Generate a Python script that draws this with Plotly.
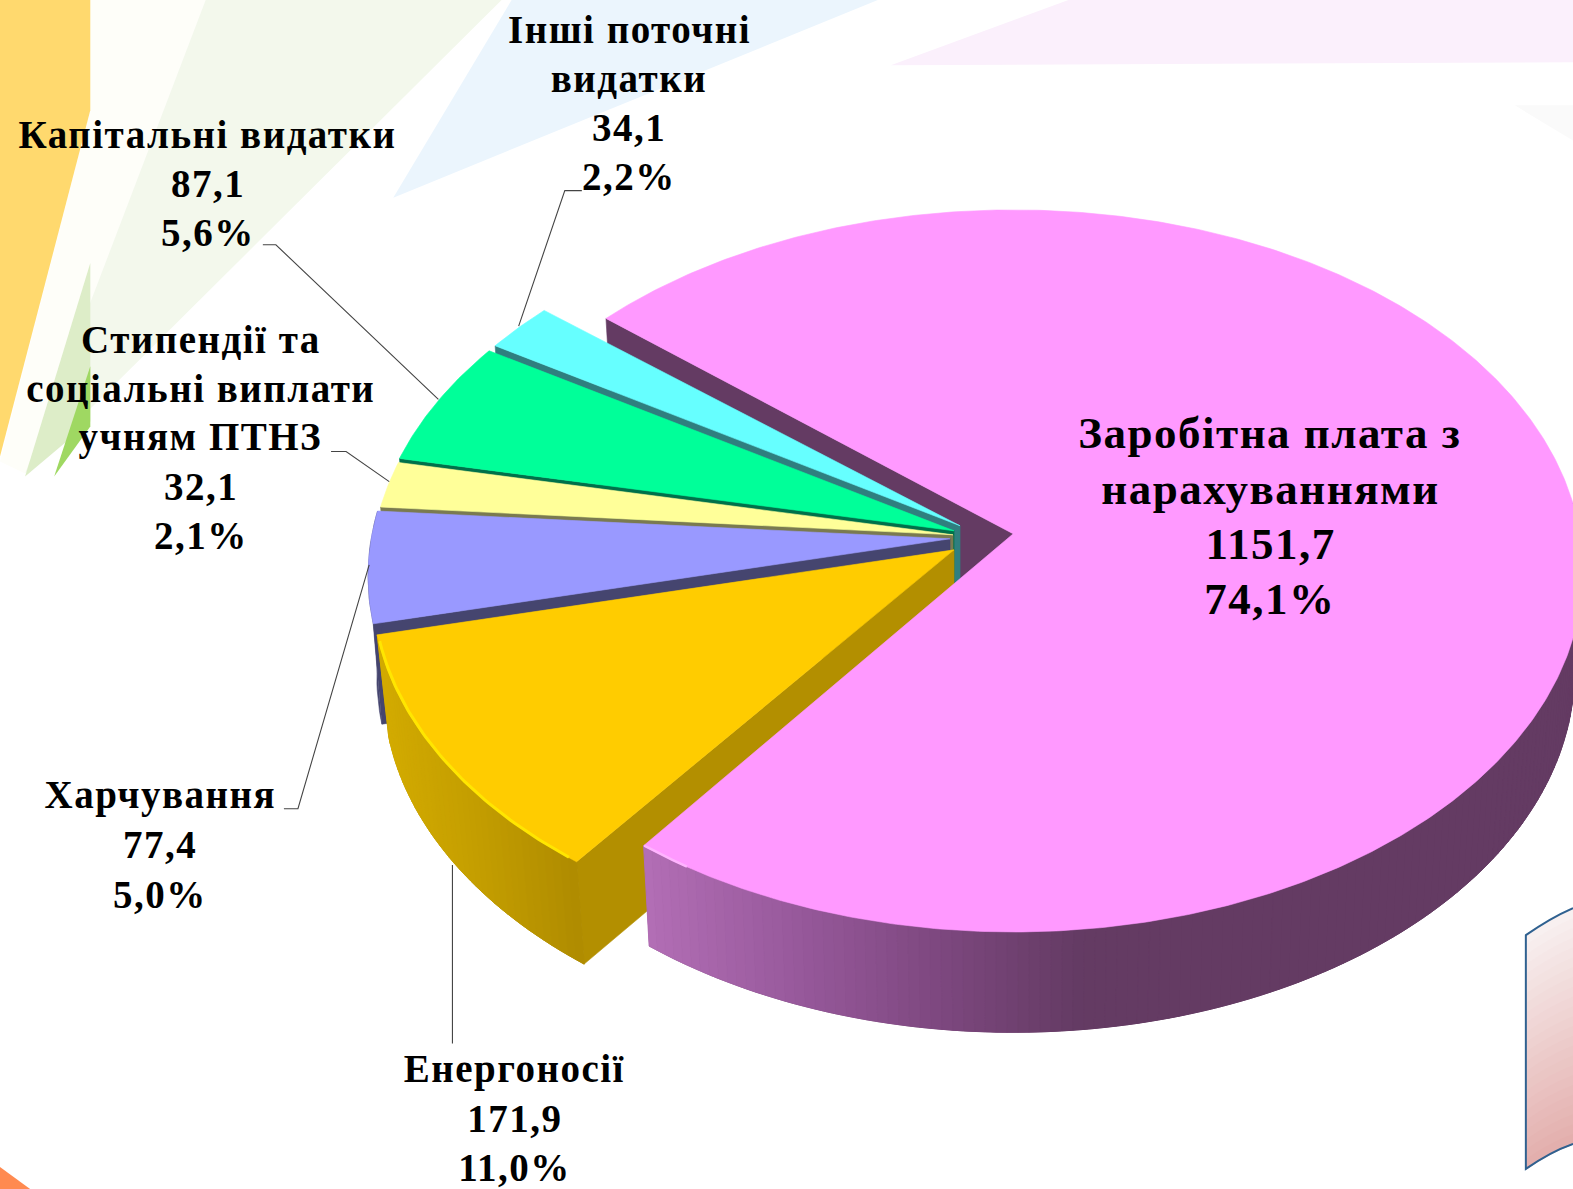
import numpy as np
import plotly.graph_objects as go

# ---- data ----
categories = ["Заробітна плата з нарахуваннями", "Енергоносії", "Харчування",
              "Стипендії та соціальні виплати учням ПТНЗ", "Капітальні видатки", "Інші поточні видатки"]
amounts = [1151.7, 171.9, 77.4, 32.1, 87.1, 34.1]
percents = [74.1, 11.0, 5.0, 2.1, 5.6, 2.2]
label_lines = [["Заробітна плата з", "нарахуваннями"], ["Енергоносії"], ["Харчування"],
               ["Стипендії та", "соціальні виплати", "учням ПТНЗ"], ["Капітальні видатки"],
               ["Інші поточні", "видатки"]]

# ---- styles and layout ----
top_colors = ["#FF99FF", "#FFCC00", "#9999FF", "#FFFF99", "#00FF99", "#66FFFF"]
wall_colors = ["#643B63", "#B38F00", "#45456F", "#7A7A50", "#00704A", "#2F7F7F"]
apexes = [(1010, 532), (951, 548), (947, 537), (950, 533), (951, 529), (957, 524)]
rx_values = [565, 577, 577, 577, 577, 577]
depths = [100, 102, 100, 100, 100, 100]
shrinks = [0.985, 0.98, 0.985, 0.985, 0.985, 0.985]
label_x = [1266, 513, 159, 200, 207, 627]
label_y = [432, 1065, 792, 338, 134, 29]
line_step = [55, 49.5, 49.5, 49, 49, 49]
font_px = [45, 39, 39, 39, 39, 39]
leaders = [([580, 563, 517], [190, 190, 325]), ([262, 275, 437], [244, 244, 398]),
           ([330, 345, 388], [450, 450, 480]), ([283, 297, 368], [806, 806, 563]),
           ([451, 451], [1040, 862])]

W, H = 1568, 1185
RY, K = 356, 0.1029
START = 140.0
FONT = "Liberation Serif"


def rim(theta_deg, i, lower=False, inset=0):
    apex, rx = apexes[i], rx_values[i] - inset
    t = np.radians(np.asarray(theta_deg, dtype=float))
    u, v = np.cos(t), -np.sin(t)
    d = 1 - K * v
    x, y = rx * u / d, RY * v / d
    if lower:
        return apex[0] + shrinks[i] * x, apex[1] + y + depths[i]
    return apex[0] + x, apex[1] + y


def mix(stops, x):
    xs = [s[0] for s in stops]
    c = [np.interp(x, xs, [s[1][i] for s in stops]) for i in range(3)]
    return "rgb(%d,%d,%d)" % tuple(c)


fig = go.Figure()


def poly(xs, ys, color, lw=0.6):
    fig.add_trace(go.Scatter(x=[float(v) for v in xs], y=[float(v) for v in ys], mode="lines",
                             fill="toself", fillcolor=color,
                             line=dict(color=color, width=lw), hoverinfo="skip", showlegend=False))


def radial(i, theta):
    a = apexes[i]
    x0, y0 = rim(theta, i)
    x1, y1 = rim(theta, i, True)
    poly([a[0], x0, x1, a[0], a[0]], [a[1], y0, y1, a[1] + depths[i], a[1]], wall_colors[i])


def outer(i, t0, t1, stops=None, step=1.0):
    n = max(2, int(abs(t1 - t0) / step) + 1)
    ts = np.linspace(t0, t1, n)
    xt, yt = rim(ts, i)
    xb, yb = rim(ts, i, True)
    poly(list(xt) + list(xb[::-1]), list(yt) + list(yb[::-1]), wall_colors[i])
    if stops is None:
        return
    for j in range(n - 1):
        c = mix(stops, (xt[j] + xb[j]) / 2)
        poly([xt[j], xt[j + 1], xb[j + 1], xb[j], xt[j]], [yt[j], yt[j + 1], yb[j + 1], yb[j], yt[j]], c, 1.0)


def top(i, t0, t1):
    a = apexes[i]
    ts = np.linspace(t0, t1, max(3, int(abs(t1 - t0) * 2)))
    x, y = rim(ts, i)
    poly([a[0]] + list(x) + [a[0]], [a[1]] + list(y) + [a[1]], top_colors[i])


total = sum(amounts)
sweeps = [v / total * 360 for v in amounts]
starts, cur = [], START
for s in sweeps:
    starts.append(cur)
    cur -= s
ends = [a - s for a, s in zip(starts, sweeps)]

# inner wall of the main slice, seen through the gap
radial(0, starts[0])
# remaining slices, back to front (clockwise order means each one's lower radial edge is its start)
for i in [5, 4, 3, 2]:
    radial(i, starts[i])
    if i == 2:
        outer(i, starts[i], ends[i])
    top(i, starts[i], ends[i])
# energy slice
radial(1, starts[1])
outer(1, starts[1], ends[1],
      [(380, (212, 172, 0)), (480, (196, 158, 0)), (580, (176, 140, 0))])
top(1, starts[1], ends[1])
hx, hy = rim(np.linspace(starts[1] - 1, ends[1] + 1, 60), 1, inset=1)
fig.add_trace(go.Scatter(x=hx, y=hy, mode="lines", line=dict(color="#FFE600", width=3),
                         hoverinfo="skip", showlegend=False))
# main slice
outer(0, ends[0], 5,
      [(645, (178, 110, 181)), (800, (150, 88, 154)), (950, (122, 70, 124)), (1075, (100, 59, 99))])
top(0, ends[0], starts[0])
hx, hy = rim(np.linspace(ends[0], ends[0] + 5, 10), 0, inset=1)
fig.add_trace(go.Scatter(x=hx, y=hy, mode="lines", line=dict(color="#FFB4FF", width=2.5),
                         hoverinfo="skip", showlegend=False))

# leader lines
for lx, ly in leaders:
    fig.add_trace(go.Scatter(x=lx, y=ly, mode="lines", line=dict(color="#444444", width=1.1),
                             hoverinfo="skip", showlegend=False))

# labels
annotations = []
for i, lines in enumerate(label_lines):
    amount_text = f"{amounts[i]:.1f}".replace(".", ",")
    percent_text = f"{percents[i]:.1f}%".replace(".", ",")
    for k, t in enumerate(lines + [amount_text, percent_text]):
        annotations.append(dict(x=label_x[i], y=label_y[i] + k * line_step[i], text=f"<b>{t}</b>",
                                showarrow=False, xanchor="center", yanchor="middle",
                                font=dict(family=FONT, size=font_px[i], color="#000000")))


# slide background decoration
def bg(path, color):
    return dict(type="path", path=path, fillcolor=color, line=dict(width=0), xref="x", yref="y", layer="below")


shapes = [
    bg("M 90 0 L 205 0 L 25 472 L 0 460 L 90 110 Z", "#FEFEF9"),
    bg("M 205 0 L 500 0 L 25 472 Z", "#F3F8EC"),
    bg("M 90 0 L 0 0 L 0 455 L 90 110 Z", "#FFD96E"),
    bg("M 90 262 L 90 420 L 25 475 Z", "#DDEDC8"),
    bg("M 90 365 L 90 425 L 54 475 Z", "#9FD862"),
    bg("M 510 0 L 875 0 L 392 197 Z", "#EBF5FD"),
    bg("M 1065 0 L 1568 0 L 1568 62 L 888 65 Z", "#FBF0FC"),
    bg("M 1510 105 L 1568 105 L 1568 140 Z", "#FAFAFA"),
    bg("M 0 1163 L 30 1185 L 0 1185 Z", "#FF8A50"),
]
n_bands = 24
for b in range(n_bands):
    f0, f1 = b / n_bands, (b + 1) / n_bands
    col = mix([(0, (248, 240, 240)), (1, (227, 173, 171))], f0)
    t0, b0 = 932 + f0 * 233, 905 + f0 * 235
    t1, b1 = 932 + f1 * 233, 905 + f1 * 235
    shapes.append(bg(f"M 1521 {t0} Q 1545 {t0-17} 1568 {b0} L 1568 {b1+1} Q 1545 {t1-17+1} 1521 {t1+1} Z", col))
shapes.append(dict(type="path", path="M 1568 905 Q 1545 915 1521 932 L 1521 1165 Q 1545 1148 1568 1140",
                   line=dict(color="#2F6190", width=2), xref="x", yref="y", layer="below"))

fig.update_layout(
    width=1573, height=1189, margin=dict(l=0, r=0, t=0, b=0, pad=0),
    paper_bgcolor="white", plot_bgcolor="white", showlegend=False,
    xaxis=dict(range=[0, W], visible=False, fixedrange=True),
    yaxis=dict(range=[H, 0], visible=False, fixedrange=True),
    annotations=annotations, shapes=shapes,
)
post = """
document.body.style.margin='0';document.body.style.overflow='hidden';
function spaceText(){document.querySelectorAll('.annotation-text').forEach(function(t){t.style.letterSpacing='1.5px';});}
spaceText();setTimeout(spaceText,50);setTimeout(spaceText,300);
"""
fig.write_html("out.html", post_script=post, config={"displayModeBar": False})
